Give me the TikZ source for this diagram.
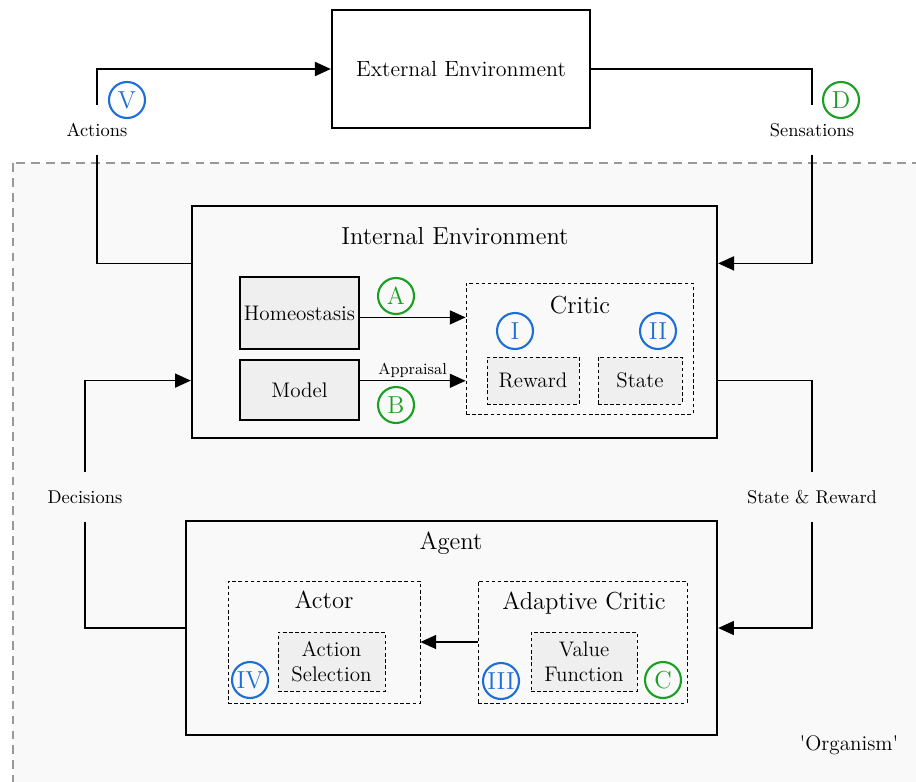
\documentclass[tikz,border=0pt]{standalone}
\usetikzlibrary{arrows.meta,calc}

\definecolor{tagblue}{RGB}{30,110,215}
\definecolor{taggreen}{RGB}{25,160,35}
\definecolor{boxgray}{RGB}{239,239,239}
\definecolor{orggray}{RGB}{249,249,249}

\tikzset{
    bigbox/.style={draw, line width=1.4pt, fill=orggray, inner sep=0pt},
    subbox/.style={draw, line width=0.8pt, fill=boxgray, inner sep=0pt, font=\fontsize{12}{14}\selectfont},
    dashbox/.style={draw, dashed, dash pattern=on 2pt off 1.5pt, line width=0.5pt, inner sep=0pt},
    title/.style={font=\fontsize{14}{16}\selectfont},
    badge/.style={circle, draw, line width=1.2pt, minimum size=0.72cm, inner sep=0pt, font=\fontsize{14}{16}\selectfont},
    bluebadge/.style={badge, draw=tagblue, text=tagblue},
    greenbadge/.style={badge, draw=taggreen, text=taggreen},
    sig/.style={minimum height=1cm, inner sep=0pt, font=\fontsize{10.5}{12}\selectfont},
    wire/.style={line width=0.8pt},
    flow/.style={wire, -{Triangle[length=9pt,width=8pt]}}
}

\begin{document}
\begin{tikzpicture}[x=0.02cm, y=-0.02cm]
        \clip (0,0) rectangle (916,781);
        \fill[white] (0,0) rectangle (916,781);
        \draw[gray!80, line width=1.5pt, dash pattern=on 5pt off 3.5pt, fill=orggray] (13,163) rectangle (960,820);

        \node[bigbox, fill=white, minimum width=5.16cm, minimum height=2.36cm, font=\fontsize{12.5}{15}\selectfont] (ext) at (461,69) {External Environment};

        \node[bigbox, minimum width=10.5cm, minimum height=4.64cm] (intenv) at (454.5,322) {};
        \node[title] (intenvtitle) at (455,236) {Internal Environment};
        \node[subbox, minimum width=2.38cm, minimum height=1.44cm] (homeo) at (299.5,313) {Homeostasis};
        \node[subbox, minimum width=2.38cm, minimum height=1.2cm] (model) at (299.5,390) {Model};
        \node[dashbox, minimum width=4.54cm, minimum height=2.62cm] (critic) at (579.5,348.5) {};
        \node[title] (critictitle) at (580,305) {Critic};
        \node[subbox, dashbox, fill=boxgray, minimum width=1.84cm, minimum height=0.94cm] (reward) at (533,380.5) {Reward};
        \node[subbox, dashbox, fill=boxgray, minimum width=1.68cm, minimum height=0.94cm] (state) at (640,380.5) {State};

        \node[bigbox, minimum width=10.62cm, minimum height=4.28cm] (agent) at (451.5,628) {};
        \node[title] (agenttitle) at (451,543) {Agent};
        \node[dashbox, minimum width=3.84cm, minimum height=2.44cm] (actor) at (324,642) {};
        \node[title] (actortitle) at (324,600) {Actor};
        \node[subbox, dashbox, fill=boxgray, align=center, minimum width=2.14cm, minimum height=1.18cm] (actsel) at (331.5,661.5) {Action\\Selection};
        \node[dashbox, minimum width=4.18cm, minimum height=2.44cm] (adcrit) at (582.5,642) {};
        \node[title] (adcrittitle) at (584,603) {Adaptive Critic};
        \node[subbox, dashbox, fill=boxgray, align=center, minimum width=2.12cm, minimum height=1.18cm] (valfun) at (584,661.5) {Value\\Function};

        \node[sig] (actions) at (97,130) {Actions};
        \node[sig] (sens) at (812,130) {Sensations};
        \node[sig] (dec) at (85,497) {Decisions};
        \node[sig] (stre) at (812,497) {State \& Reward};
        \node[font=\fontsize{12}{14}\selectfont] (org) at (849,745) {\textquotesingle Organism\textquotesingle};

        \node[bluebadge] (tagV) at (127,100) {V};
        \node[greenbadge] (tagD) at (841,100) {D};
        \node[greenbadge] (tagA) at (396,296) {A};
        \node[greenbadge] (tagB) at (396,405) {B};
        \node[bluebadge] (tagI) at (515,331) {I};
        \node[bluebadge] (tagII) at (658,331) {II};
        \node[bluebadge] (tagIII) at (501,681) {III};
        \node[bluebadge] (tagIV) at (250,680) {IV};
        \node[greenbadge] (tagC) at (663,680) {C};

        \coordinate (ho) at ($(homeo.north east)!0.56!(homeo.south east)$);
        \coordinate (mo) at ($(model.north east)!0.35!(model.south east)$);
        \draw[flow] (ho) -- (ho -| critic.west);
        \draw[flow] (mo) -- (mo -| critic.west) node[midway, above, inner sep=1.5pt, font=\fontsize{9}{10}\selectfont] {Appraisal};
        \draw[flow] (adcrit.west) -- (actor.east);

        \draw[flow] (actions.north) |- (ext.west);
        \draw[wire] (actions.south) |- ($(intenv.north west)!0.25!(intenv.south west)$);
        \draw[wire] (ext.east) -| (sens.north);
        \draw[flow] (sens.south) |- ($(intenv.north east)!0.25!(intenv.south east)$);
        \draw[wire] ($(intenv.north east)!0.75!(intenv.south east)$) -| (stre.north);
        \draw[flow] (stre.south) |- (agent.east);
        \draw[wire] (agent.west) -| (dec.south);
        \draw[flow] (dec.north) |- ($(intenv.north west)!0.75!(intenv.south west)$);
\end{tikzpicture}
\end{document}
